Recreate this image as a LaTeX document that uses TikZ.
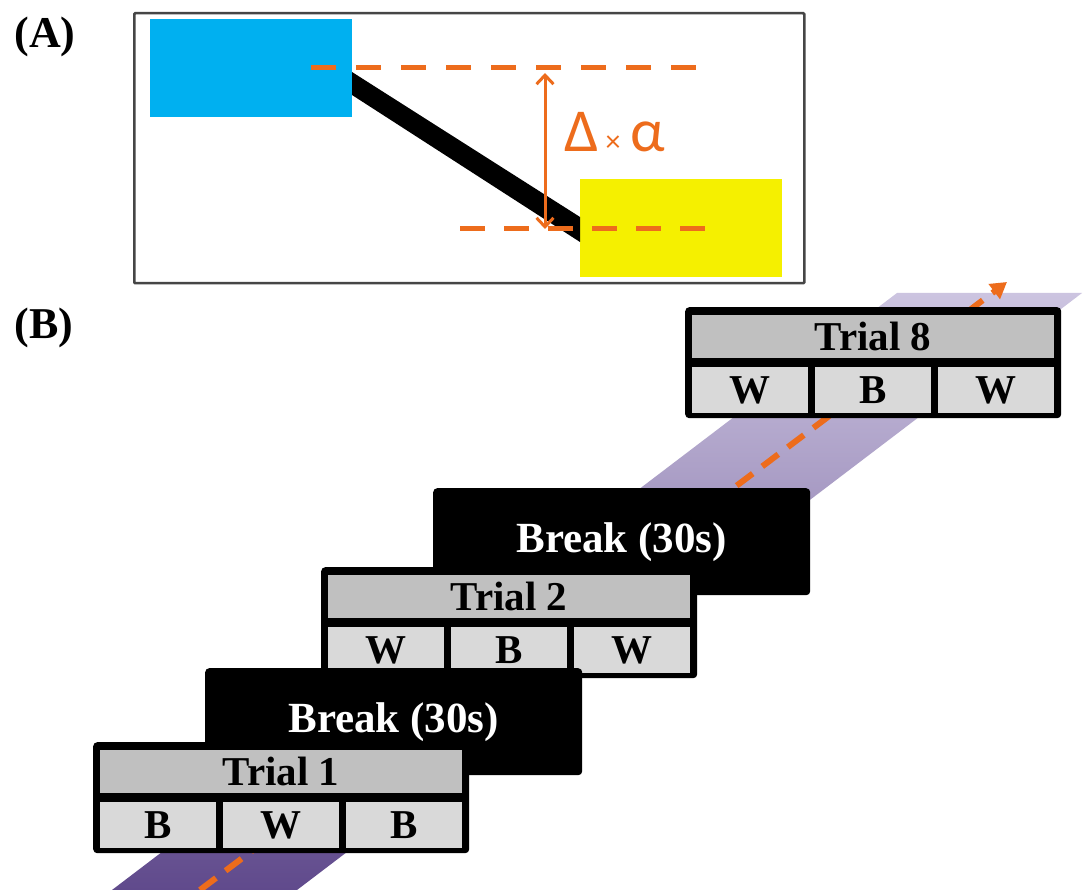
\documentclass[tikz,border=0pt]{standalone}
\usepackage{fontspec}
\setmainfont{Liberation Serif}
\newfontfamily\calfont{Carlito}
\usetikzlibrary{arrows.meta,calc}
\definecolor{bluebox}{RGB}{0,176,240}
\definecolor{yellowbox}{RGB}{245,240,0}
\definecolor{orangeA}{RGB}{237,108,28}
\definecolor{hdrgray}{RGB}{192,192,192}
\definecolor{cellgray}{RGB}{217,217,217}
\definecolor{lav}{RGB}{204,196,224}
\definecolor{lavmid}{RGB}{190,180,214}
\definecolor{purp}{RGB}{96,74,140}
\definecolor{framegray}{RGB}{70,70,70}
\tikzset{
  frameA/.style={draw=framegray, line width=2.5pt, rounded corners=1pt, minimum width=670pt, minimum height=270pt, anchor=north west, inner sep=0},
  colbox/.style={minimum width=202pt, minimum height=98pt, anchor=north west, inner sep=0},
  panellabel/.style={font=\bfseries\fontsize{44}{44}\selectfont, inner sep=0},
  odash/.style={draw=orangeA, line width=5pt, dash pattern=on 25pt off 20pt},
  outerbox/.style={fill=black, rounded corners=4pt, minimum width=376pt, minimum height=111pt, anchor=north west, inner sep=0},
  hdr/.style={fill=hdrgray, minimum width=362pt, minimum height=43pt, anchor=north west, inner sep=0, font=\bfseries\fontsize{41}{41}\selectfont},
  cellbox/.style={fill=cellgray, minimum width=116pt, minimum height=46pt, anchor=north west, inner sep=0, font=\bfseries\fontsize{41}{41}\selectfont},
  brk/.style={fill=black, text=white, rounded corners=4pt, minimum width=377pt, minimum height=107pt, anchor=north west, inner sep=0, font=\bfseries\fontsize{43}{43}\selectfont},
  bandarrow/.style={draw=orangeA, line width=6pt, dash pattern=on 20pt off 12pt, -{Triangle[length=16pt,width=18pt]}},
}
\newcommand\trialblock[7]{%
  \node[outerbox] (#1) at (#2,#3) {};
  \node[hdr] (#1-h) at ($(#1.north west)+(7,8)$) {#4};
  \node[cellbox] (#1-a) at ($(#1.north west)+(7,60)$) {#5};
  \node[cellbox] (#1-b) at ($(#1.north west)+(130,60)$) {#6};
  \node[cellbox] (#1-c) at ($(#1.north west)+(253,60)$) {#7};
}
\begin{document}
\begin{tikzpicture}[x=1pt,y=-1pt]
\useasboundingbox (0,0) rectangle (1086,890);
\fill[white] (0,0) rectangle (1086,890);
% ---------- Panel A ----------
\node[panellabel] (labA) at (45,37) {(A)};
\node[frameA] (panelA) at (133,12) {};
\node[colbox, fill=bluebox] (blue) at (150,19) {};
\node[colbox, fill=yellowbox] (yellow) at (580,179) {};
\fill[black] (352,72) -- (580,217) -- (580,242) -- (352,95) -- cycle;
\coordinate (t1) at (311,68); \coordinate (t2) at (696,68);
\coordinate (b1) at (460,229); \coordinate (b2) at (705,229);
\draw[odash] (t1) -- (t2);
\draw[odash, dash pattern=on 25pt off 19pt] (b1) -- (b2);
\coordinate (aTop) at (545,73); \coordinate (aBot) at (545,229);
\draw[orangeA, line width=3pt, {Straight Barb[length=9pt,width=17pt]}-{Straight Barb[length=9pt,width=17pt]}] (aTop) -- (aBot);
\node[anchor=base west, inner sep=0, text=orangeA, font=\calfont\fontsize{61}{61}\selectfont] (dlabel) at (564,152) {Δ\hspace{7pt}{\fontsize{30}{30}\selectfont ×}\hspace{10pt}α};
% ---------- Panel B ----------
\node[panellabel] (labB) at (44,328) {(B)};
\shade[top color=lav, middle color=lavmid, bottom color=purp] (112,890) -- (297,890) -- (1082,293) -- (897,293) -- cycle;
\coordinate (arrS) at (200,890); \coordinate (arrE) at (1007,282);
\draw[bandarrow] (arrS) -- (arrE);
\trialblock{trial8}{685}{307}{Trial 8}{W}{B}{W}
\node[brk] (break2) at (433,488) {Break (30s)\hspace{20pt}};
\trialblock{trial2}{321}{567}{Trial 2}{W}{B}{W}
\node[brk] (break1) at (205,668) {Break (30s)};
\trialblock{trial1}{93}{742}{Trial 1}{B}{W}{B}
\end{tikzpicture}
\end{document}
